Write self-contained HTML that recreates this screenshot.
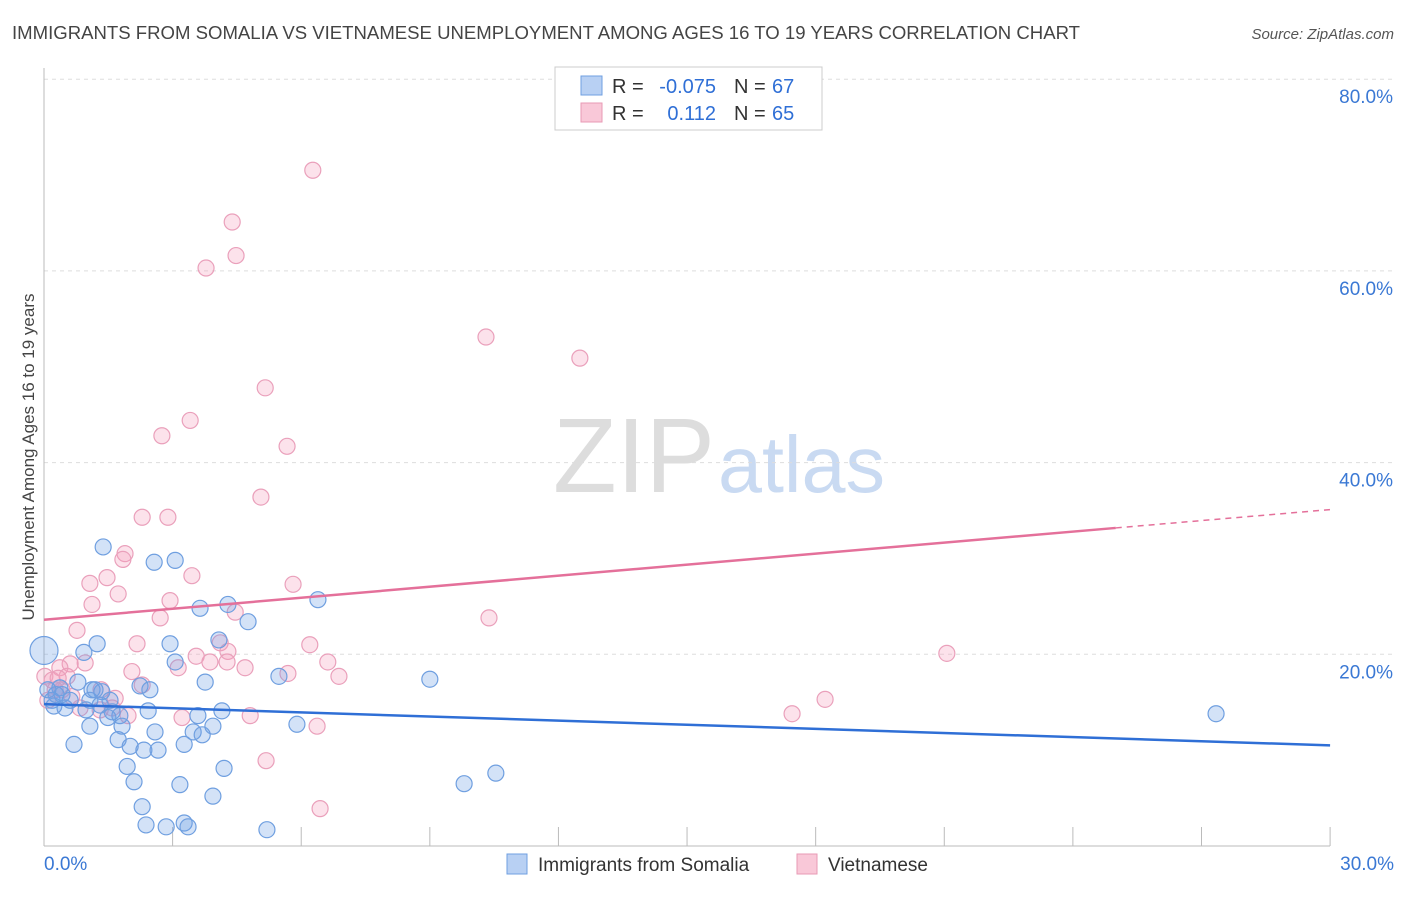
<!DOCTYPE html>
<html><head><meta charset="utf-8"><style>
body{margin:0;background:#fff;font-family:"Liberation Sans",sans-serif;}
svg text{font-family:"Liberation Sans",sans-serif;}
</style></head><body>
<svg id="chart" width="1406" height="892" xmlns="http://www.w3.org/2000/svg">
<text x="12" y="39" font-size="18" fill="#444" textLength="1068" lengthAdjust="spacingAndGlyphs">IMMIGRANTS FROM SOMALIA VS VIETNAMESE UNEMPLOYMENT AMONG AGES 16 TO 19 YEARS CORRELATION CHART</text>
<text x="1394" y="39" font-size="15" fill="#555" text-anchor="end" font-style="italic">Source: ZipAtlas.com</text>
<text x="553" y="492" font-size="106" fill="#ddd" font-family="Liberation Serif" textLength="162" lengthAdjust="spacingAndGlyphs">ZIP</text>
<text x="718" y="492" font-size="80" fill="#c9daf2" textLength="167" lengthAdjust="spacingAndGlyphs">atlas</text>
<g id="grid"></g>
<g id="axes"></g>
<g id="pts"></g>
<g id="trend"></g>
<text transform="translate(34,457) rotate(-90)" font-size="17" fill="#444" text-anchor="middle">Unemployment Among Ages 16 to 19 years</text>
<g>
<rect x="555" y="67" width="267" height="63" fill="#fff" stroke="#ccc"/>
<rect x="581" y="76" width="21" height="19" fill="#b8d0f3" stroke="#6f9fe0"/>
<rect x="581" y="103" width="21" height="19" fill="#f9c8d8" stroke="#e89ab5"/>
<text x="612" y="93" font-size="20" fill="#333">R =</text>
<text x="716" y="93" font-size="20" fill="#2f6fd6" text-anchor="end">-0.075</text>
<text x="734" y="93" font-size="20" fill="#333">N =</text>
<text x="772" y="93" font-size="20" fill="#2f6fd6">67</text>
<text x="612" y="120" font-size="20" fill="#333">R =</text>
<text x="716" y="120" font-size="20" fill="#2f6fd6" text-anchor="end">0.112</text>
<text x="734" y="120" font-size="20" fill="#333">N =</text>
<text x="772" y="120" font-size="20" fill="#2f6fd6">65</text>
</g>
<g>
<rect x="507" y="854" width="20" height="20" fill="#b8d0f3" stroke="#6f9fe0"/>
<text x="538" y="871" font-size="19" fill="#333">Immigrants from Somalia</text>
<rect x="797" y="854" width="20" height="20" fill="#f9c8d8" stroke="#e89ab5"/>
<text x="828" y="871" font-size="19" fill="#333">Vietnamese</text>
</g>
</svg>
<script>
const blueX=[1.38,2.57,3.06,1.24,0.93,3.64,4.29,4.76,6.39,4.08,2.94,3.06,3.76,5.48,9.0,27.34,0.09,0.37,0.79,1.12,1.35,1.54,0.23,0.49,1.07,1.77,2.24,2.43,1.82,1.07,0.70,1.73,2.01,2.33,2.66,2.59,3.27,3.59,3.48,3.69,3.94,4.15,5.90,1.94,2.10,4.20,3.17,3.94,2.29,2.38,2.85,3.27,3.36,5.20,9.80,10.54,0.0,0.19,0.42,1.31,1.59,0.98,0.61,0.28,1.49,2.47,1.19];
const blueY=[31.2,29.6,29.8,21.1,20.2,24.8,25.2,23.4,25.7,21.5,21.1,19.2,17.1,17.7,17.4,13.8,16.3,16.5,17.1,16.3,16.1,15.2,14.6,14.4,15.2,13.6,16.7,14.1,12.5,12.5,10.6,11.1,10.4,10.0,10.0,11.9,10.6,13.6,11.9,11.6,12.5,14.1,12.7,8.3,6.7,8.1,6.4,5.2,4.1,2.2,2.0,2.4,2.0,1.7,6.5,7.6,20.4,15.2,15.8,14.7,14.0,14.2,15.2,15.8,13.4,16.3,16.3];
const pinkX=[6.27,4.39,4.48,3.78,10.31,12.5,5.16,3.41,2.75,5.67,5.06,2.29,2.89,1.89,1.84,3.45,1.47,1.07,1.73,5.81,1.12,2.94,4.46,2.71,10.38,0.77,2.17,4.11,4.29,6.2,3.55,3.87,4.27,3.13,4.69,6.62,0.96,0.61,0.37,5.69,2.05,6.88,0.02,0.19,0.54,0.26,1.33,1.66,2.29,21.06,18.22,17.45,0.84,1.59,1.96,3.22,4.81,6.37,5.18,6.44,0.09,0.42,1.31,0.65,0.33];
const pinkY=[70.5,65.1,61.6,60.3,53.1,50.9,47.8,44.4,42.8,41.7,36.4,34.3,34.3,30.5,29.9,28.2,28.0,27.4,26.3,27.3,25.2,25.6,24.4,23.8,23.8,22.5,21.1,21.2,20.3,21.0,19.8,19.2,19.2,18.6,18.6,19.2,19.1,19.0,18.6,18.0,18.2,17.7,17.7,17.3,17.7,16.3,16.3,15.4,16.8,20.1,15.3,13.8,14.4,14.4,13.6,13.4,13.6,12.5,8.9,3.9,15.2,16.3,14.2,15.6,17.5];
const yTicks=[20,40,60,80];
const yTickLabels=["20.0%","40.0%","60.0%","80.0%"];
const xTickVals=[3,6,9,12,15,18,21,24,27,30];
const blueTrend=[14.8,10.5];
const pinkTrend=[23.6,35.1];
const pinkSolidEnd=25;
const X=v=>44+v*42.87, Y=v=>846-v*9.585;
const NS="http://www.w3.org/2000/svg";
function mk(t,a,p){const e=document.createElementNS(NS,t);for(const k in a)e.setAttribute(k,a[k]);p.appendChild(e);return e;}
const grid=document.getElementById('grid'),axes=document.getElementById('axes'),pts=document.getElementById('pts'),tr=document.getElementById('trend');
yTicks.forEach((v,i)=>{
 const l=mk('line',{x1:44,x2:1394,y1:Y(v),y2:Y(v),stroke:'#ddd','stroke-dasharray':'4,4'},grid);
 
 
 const t=mk('text',{x:1393,y:Y(v)+24,'font-size':19,fill:'#3a78d4','text-anchor':'end'},axes);
 t.textContent=yTickLabels[i];
 
 
});
mk('line',{x1:44,x2:44,y1:68,y2:846,stroke:'#bbb'},axes);
mk('line',{x1:44,x2:1330,y1:846,y2:846,stroke:'#bbb'},axes);
xTickVals.forEach(v=>{
 const l=mk('line',{x1:X(v),x2:X(v),y1:827,y2:846,stroke:'#bbb'},axes);
 
 
});
let t0=mk('text',{x:44,y:870,'font-size':19,fill:'#3a78d4'},axes);t0.textContent='0.0%';


let t1=mk('text',{x:1394,y:870,'font-size':19,fill:'#3a78d4','text-anchor':'end'},axes);t1.textContent='30.0%';


pinkX.forEach((x,i)=>{
 const c=mk('circle',{cx:X(x),cy:Y(pinkY[i]),r:8,fill:'rgba(244,160,190,0.3)',stroke:'#eaa0bb','stroke-width':1.2},pts);
 
 
});
blueX.forEach((x,i)=>{
 const c=mk('circle',{cx:X(x),cy:Y(blueY[i]),r:(x===0?14:8),fill:'rgba(110,160,230,0.3)',stroke:'#6f9fe0','stroke-width':1.2},pts);
 
 
});
const bl=mk('line',{x1:X(0),y1:Y(blueTrend[0]),x2:X(30),y2:Y(blueTrend[1]),stroke:'#2f6fd6','stroke-width':2.5},tr);


const pm=pinkTrend[0]+(pinkTrend[1]-pinkTrend[0])*pinkSolidEnd/30;
const pl=mk('line',{x1:X(0),y1:Y(pinkTrend[0]),x2:X(pinkSolidEnd),y2:Y(pm),stroke:'#e4709a','stroke-width':2.5},tr);


const pd=mk('line',{x1:X(pinkSolidEnd),y1:Y(pm),x2:X(30),y2:Y(pinkTrend[1]),stroke:'#e4709a','stroke-width':1.5,'stroke-dasharray':'6,5'},tr);


</script>
</body></html>
